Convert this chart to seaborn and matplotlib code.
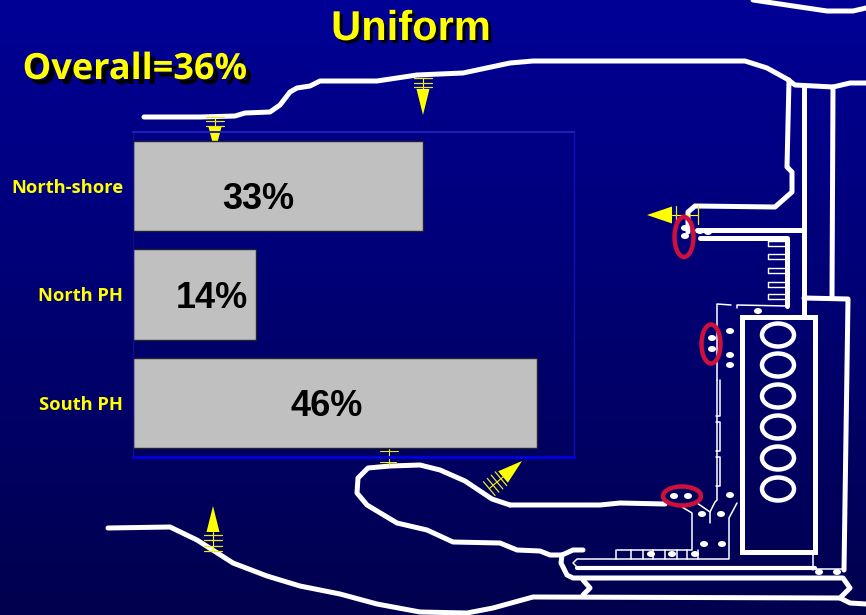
import numpy as np
import pandas as pd
import seaborn as sns
import matplotlib
matplotlib.use("Agg")
import matplotlib.pyplot as plt
import matplotlib.patheffects as pe
from matplotlib.patches import Ellipse, Polygon, Rectangle

regions = ["North-shore", "North PH", "South PH"]
values = [33, 14, 46]
labels = ["33%", "14%", "46%"]
title = "Uniform"
overall = "Overall=36%"

sns.set_theme(style="white")
W, H = 866, 615
fig = plt.figure(figsize=(W / 100, H / 100), dpi=100)

bg = fig.add_axes([0, 0, 1, 1], zorder=0)
bg.set_xlim(0, W); bg.set_ylim(H, 0); bg.axis("off")
grad = np.zeros((256, 1, 3))
t = np.linspace(0, 1, 256)
grad[:, 0, 2] = (150 - 72 * t) / 255
bg.imshow(grad, extent=[0, W, H, 0], aspect="auto", zorder=0)

def line(pts, lw=3.6, c="white", z=2):
    x, y = zip(*pts)
    bg.plot(x, y, color=c, lw=lw, solid_capstyle="round", solid_joinstyle="round", zorder=z)

thick = 3.6
thin = 1.1
# shoreline
line([(144,117),(200,117),(235,116),(245,113),(270,112),(280,105),(290,92),(297,88),(310,86),(320,81),(377,81),(417,75),(463,73),(510,63),(533,61),(745,61),(767,68),(787,79),(795,85),(833,87),(850,83),(866,83)])
line([(753,0),(800,7),(827,11),(853,11),(866,8)])
line([(108,528),(170,527),(197,540),(233,563),(267,576),(300,586),(340,594),(377,604),(420,612),(467,613),(493,608),(533,597),(840,598),(850,588),(843,578),(573,578),(567,575),(561,563),(562,555),(573,550),(583,550)])
line([(583,580),(590,588),(583,595)])
line([(840,598),(850,603),(866,604)])
line([(510,505),(600,505),(620,503),(665,504)])
line([(510,505),(492,499),(465,481),(440,470),(420,465),(390,466),(368,468),(358,478),(357,493),(367,505),(397,523),(427,530),(453,542),(500,543),(517,550),(540,551),(550,555),(562,555)])
line([(577,568),(815,568)], 3.0)
# right-hand structures
line([(688,232),(688,212),(695,206),(775,207),(792,192),(792,172),(787,167),(789,80)])
line([(697,230),(804,230)])
line([(700,238),(787,238),(787,306)])
line([(804,86),(804,317)])
line([(833,87),(832,298)])
line([(804,298),(848,299),(844,570)])
bg.add_patch(Rectangle((742, 317), 73, 235, fill=False, ec="white", lw=3.6, zorder=2))
for y in [335, 365, 396, 427, 458, 489]:
    bg.add_patch(Ellipse((778, y), 32, 23, fill=False, ec="white", lw=3.2, zorder=2))
for y in [243, 256, 270, 284, 296]:
    line([(768,y-2),(787,y-2)], 1.0)
    line([(768,y+3),(787,y+3)], 1.0)
    line([(768,y-2),(768,y+3)], 1.0)
# thin outlines
line([(787,306),(737,305),(737,308)], thin)
line([(731,305),(717,304),(717,380)], thin)
line([(717,380),(717,500),(715,502),(710,512),(710,523)], thin)
line([(720,380),(720,416),(716,416)], thin)
line([(716,422),(720,422),(720,451),(716,451)], thin)
line([(716,457),(720,457),(720,486),(716,486)], thin)
line([(682,507),(692,513),(692,550),(617,550)], thin)
line([(697,503),(710,512)], thin)
line([(737,503),(729,518),(729,559),(577,559),(573,563),(577,567)], thin)
for x in [616, 631, 643, 653, 665, 677, 687, 698]:
    line([(x,550),(x,559)], thin)
line([(813,552),(813,570)], thin)
line([(815,569),(844,569)], thin)
# white dots
dots = [(685,228),(685,236),(700,231),(708,232),(730,331),(730,355),(730,365),(712,338),(712,349),(674,496),(688,496),(730,495),(702,514),(721,514),(704,544),(722,544),(651,554),(672,554),(695,554),(819,572),(837,572),(758,311)]
for (x, y) in dots:
    bg.add_patch(Ellipse((x, y), 8, 6, fc="white", ec="none", zorder=3))
# red rings
for (x, y, w, h) in [(684,237,19,40),(711,344,19,39),(682,496,38,19)]:
    bg.add_patch(Ellipse((x, y), w, h, fill=False, ec="#d0103c", lw=3.2, zorder=4))

# yellow arrows with ladder
Y = "#ffff00"
def arrow(tip, base, width=14, rungs=4, length=26):
    tip = np.array(tip, float); base = np.array(base, float)
    d = (tip - base) / np.linalg.norm(tip - base)
    n = np.array([-d[1], d[0]])
    bg.add_patch(Polygon([tip, base + n * width / 2, base - n * width / 2], fc=Y, ec="none", zorder=3))
    end = base - d * length
    bg.plot([base[0], end[0]], [base[1], end[1]], color=Y, lw=0.8, zorder=3)
    for s in np.linspace(0.15, 1, rungs):
        c = base - d * length * s
        bg.plot([c[0] - n[0]*9, c[0] + n[0]*9], [c[1] - n[1]*9, c[1] + n[1]*9], color="#e8e820", lw=0.9, zorder=3)

arrow((423,115), (423,89), 13, 3, 11)
arrow((215,152), (215,127), 13, 3, 10)
arrow((647,215), (672,215), 17, 2, 26)
arrow((522,461), (503,477), 15, 4, 18)
arrow((213,506), (213,532), 13, 4, 19)
bg.plot([389,389], [448,465], color="#e8e820", lw=0.8, zorder=3)
bg.plot([380,398], [451,451], color="#e8e820", lw=0.8, zorder=3)
bg.plot([380,396], [462,462], color="#e8e820", lw=0.8, zorder=3)

# bar chart
df = pd.DataFrame({"region": regions, "pct": values})
ax = fig.add_axes([133 / W, 1 - 457 / H, 441 / W, 325 / H], zorder=2)
ax.patch.set_alpha(0)
sns.barplot(data=df, y="region", x="pct", orient="h", color="#c0c0c0", saturation=1,
            width=0.833, edgecolor="#222233", linewidth=1.0, ax=ax)
ax.set_xlim(0, 50.2)
ax.set_ylim(2.5, -0.5)
ax.set_xlabel(""); ax.set_ylabel("")
ax.set_xticks([])
ax.tick_params(axis="y", length=0, pad=7)
for lab in ax.get_yticklabels():
    lab.set_color(Y); lab.set_fontweight("bold"); lab.set_fontsize(13.2); lab.set_family("Open Sans")
for s, c, w in [("top", "#2020b8", 1.4), ("right", "#1010b8", 1.0), ("left", "#101080", 1.0), ("bottom", "#0000e0", 2.0)]:
    ax.spines[s].set_color(c); ax.spines[s].set_linewidth(w); ax.spines[s].set_visible(True)

# value labels placed as on the slide
off_x = [-2.2, 2.0, -1.0]
off_y = [0.12, 0.037, 0.037]
for i, (v, lab, ox, oy) in enumerate(zip(values, labels, off_x, off_y)):
    ax.text(v / 2 + ox, i + oy, lab, ha="center", va="center", color="black",
            fontsize=26, fontweight="bold", family="Liberation Sans")

# headings with hard drop shadow
def head(x, y, s, size, fam, dx, dy):
    shadow = [pe.withSimplePatchShadow(offset=(dx * 0.72, -dy * 0.72), shadow_rgbFace="black", alpha=1.0, rho=1.0)]
    fig.text(x / W, 1 - y / H, s, ha="center", va="center", color=Y, fontsize=size,
             fontweight="bold", family=fam, zorder=6, path_effects=shadow)

head(411, 29, title, 30, "Liberation Sans", 3, 3)
head(135, 70, overall, 26, "Open Sans", 5, 5)

fig.savefig("out.png", dpi=100)
